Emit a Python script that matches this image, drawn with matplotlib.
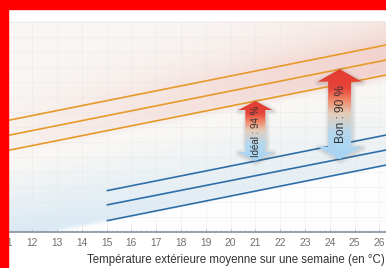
import numpy as np
import matplotlib
matplotlib.use("Agg")
import matplotlib.pyplot as plt
from matplotlib.colors import LinearSegmentedColormap
from matplotlib.patches import Polygon, Rectangle

# ── data ─────────────────────────────────────────────────────────────────────
UPPER_T = [10, 27]                       # outdoor temp for the upper limit lines
UPPER_LINES = [[26.1, 31.7],             # +4 (cat III)
               [25.1, 30.7],             # +3 (cat II)
               [24.1, 29.7]]             # +2 (cat I)
LOWER_T = [15, 27]
LOWER_LINES = [[21.75, 25.7],            # -2 (cat I)
               [20.8, 24.7],             # -3 (cat II)
               [19.75, 23.7]]            # -4 (cat III)

ARROW_T = [21.0, 24.4]
ARROW_LOW = [23.73, 23.85]
ARROW_HIGH = [27.73, 29.85]
ARROW_LABELS = ["Idéal : 94 %", "Bon : 90 %"]

XTICKS = list(range(11, 27))
XLIM = (10.70, 26.27)
YLIM = (19.02, 33.08)
XLABEL = "Température extérieure moyenne sur une semaine (en °C)"

ORANGE = "#e69a2a"
BLUE = "#2f6fa8"

plt.rcParams["font.family"] = ["Liberation Sans", "DejaVu Sans"]

W, H = 386, 268
fig = plt.figure(figsize=(W / 100, H / 100), dpi=100)
fig.patch.set_facecolor("white")
ax = fig.add_axes([0, (H - 231.7) / H, 1, (231.7 - 20.7) / H])
ax.set_xlim(*XLIM)
ax.set_ylim(*YLIM)


def smooth(x, a, b):
    t = np.clip((x - a) / (b - a), 0, 1)
    return t * t * (3 - 2 * t)


# ── background haze ──────────────────────────────────────────────────────────
tt, vv = np.meshgrid(np.linspace(*XLIM, 400), np.linspace(*YLIM, 300))
up_top = np.polyval(np.polyfit(UPPER_T, UPPER_LINES[0], 1), tt)
up_bot = np.polyval(np.polyfit(UPPER_T, UPPER_LINES[2], 1), tt)
lo_bot = np.polyval(np.polyfit(LOWER_T, LOWER_LINES[2], 1), tt)
xr = (tt - XLIM[0]) / (XLIM[1] - XLIM[0])

base = np.array([0.975, 0.970, 0.960])
pink = np.array([0.95, 0.80, 0.78])
blue = np.array([0.84, 0.91, 0.96])
white = np.array([0.995, 0.995, 0.995])

s_r = smooth(vv - up_bot, -0.6, 0.4) * np.exp(-np.clip(vv - up_top, 0, None) / 2.0) * (0.12 + 0.75 * xr)
s_b = np.clip((up_bot - 1.0 - vv) / 5.0, 0, 1) * (1 - 0.55 * xr)
wedge = smooth(vv - lo_bot, -0.25, 0.25)

img = base * (1 - s_r[..., None]) + pink * s_r[..., None]
img = img * (1 - s_b[..., None]) + blue * s_b[..., None]
img = img * wedge[..., None] + white * (1 - wedge[..., None])
ax.imshow(img, extent=(*XLIM, *YLIM), origin="lower", aspect="auto", zorder=0)

# faint grid
for x in XTICKS:
    ax.axvline(x, color="#e4e4e4", lw=0.5, alpha=0.5, zorder=1)
for y in range(20, 34):
    ax.axhline(y, color="#e4e4e4", lw=0.5, alpha=0.5, zorder=1)

# ── limit lines ──────────────────────────────────────────────────────────────
for vals in UPPER_LINES:
    ax.plot(UPPER_T, vals, color=ORANGE, lw=1.2, zorder=3, solid_capstyle="butt")
for vals in LOWER_LINES:
    ax.plot(LOWER_T, vals, color=BLUE, lw=1.2, zorder=3, solid_capstyle="butt")

# ── gradient double arrows ───────────────────────────────────────────────────
arrow_cmap = LinearSegmentedColormap.from_list(
    "arr", [(0.0, "#a7d5f3"), (0.28, "#b3d8ef"), (0.5, "#e4cdb9"),
            (0.64, "#ef8c6c"), (0.78, "#e6453a"), (1.0, "#e43a30")])
PX_X = (XLIM[1] - XLIM[0]) / W          # data units per pixel
PX_Y = (YLIM[1] - YLIM[0]) / 211.0
SIZES = [(10, 17, 9), (11.5, 22, 12.5)]   # shaft half, head half, head len (px)
LABEL_SIZES = [7.0, 8.6]

for xc, lo, hi, lab, (sw, hw, hl), fs in zip(ARROW_T, ARROW_LOW, ARROW_HIGH, ARROW_LABELS,
                                             SIZES, LABEL_SIZES):
    sw, hw, hl = sw * PX_X, hw * PX_X, hl * PX_Y
    pts = [(xc, hi), (xc + hw, hi - hl), (xc + sw, hi - hl), (xc + sw, lo + hl),
           (xc + hw, lo + hl), (xc, lo), (xc - hw, lo + hl), (xc - sw, lo + hl),
           (xc - sw, hi - hl), (xc - hw, hi - hl)]
    for lw, al in [(6, 0.04), (4, 0.06), (2, 0.09)]:
        sh = [(px + 0.8 * PX_X, py - 1.2 * PX_Y) for px, py in pts]
        ax.add_patch(Polygon(sh, closed=True, facecolor="none", edgecolor="#555555",
                             lw=lw, alpha=al, joinstyle="round", zorder=4))
    poly = Polygon(pts, closed=True, facecolor="none", edgecolor="none", zorder=5)
    ax.add_patch(poly)
    grad = np.linspace(0, 1, 200).reshape(-1, 1)
    im = ax.imshow(grad, cmap=arrow_cmap, extent=(xc - hw, xc + hw, lo, hi),
                   origin="lower", aspect="auto", zorder=5)
    im.set_clip_path(poly)
    ax.text(xc + 1.0 * PX_X, (lo + hi) / 2, lab, rotation=90, ha="center", va="center",
            fontsize=fs, color="#333333", zorder=6)

# ── axes styling ─────────────────────────────────────────────────────────────
for s in ["top", "left", "right"]:
    ax.spines[s].set_visible(False)
ax.spines["bottom"].set_color("#8d9aa6")
ax.spines["bottom"].set_linewidth(1.3)
ax.set_yticks([])
ax.set_xticks(XTICKS)
ax.set_xticks(np.arange(10.8, 26.3, 0.2), minor=True)
ax.tick_params(axis="x", which="major", direction="in", length=2.5, width=0.6,
               color="#b5b5b5", labelsize=7.4, labelcolor="#707070", pad=4.5)
ax.tick_params(axis="x", which="minor", direction="in", length=1.4, width=0.5, color="#c5c5c5")

fig.text(385 / W, 1 - 260 / H, XLABEL, ha="right", va="center", fontsize=8.3, color="#333333")

# red frame cut
fig.add_artist(Rectangle((0, 0), 8 / W, 1, transform=fig.transFigure, color="#ff0000", zorder=10))
fig.add_artist(Rectangle((0, 1 - 9 / H), 1, 9 / H, transform=fig.transFigure, color="#ff0000", zorder=10))

fig.savefig("out.png", dpi=100, facecolor="white")
